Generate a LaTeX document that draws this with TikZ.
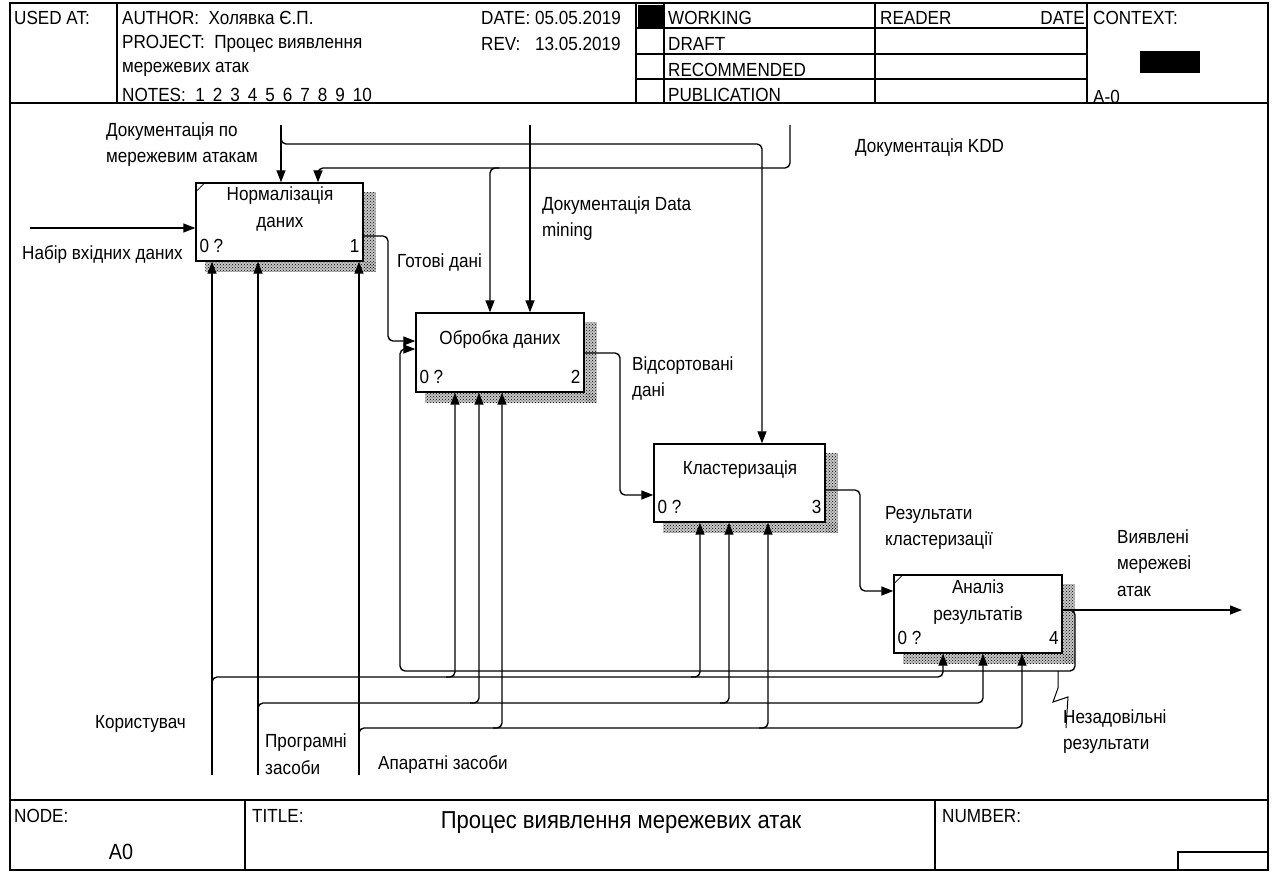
\documentclass[tikz,border=0pt]{standalone}
\usepackage{fontspec}
\setmainfont[FakeStretch=0.9]{Liberation Sans}
\usetikzlibrary{arrows.meta,patterns,calc}
\newcommand\fs{\fontsize{19}{26.5}\selectfont}
\newcommand\fbig{\fontsize{24.5}{28}\selectfont}
\newcommand\fnode{\fontsize{22}{26}\selectfont}
\begin{document}
\begin{tikzpicture}[x=1pt,y=-1pt,
  lbl/.style={font=\fs, inner sep=0pt, align=left, anchor=west},
  ctr/.style={font=\fs, inner sep=0pt, align=center},
  frameline/.style={line width=1.5pt},
  proc/.style={draw, line width=1.4pt, fill=white, inner sep=0pt},
  shadebase/.style={fill=gray!45},
  shade/.style={pattern=crosshatch dots, pattern color=black},
  conn/.style={line width=1.35pt, rounded corners=5pt},
  arr/.style={conn, -{Triangle[length=12pt,width=9pt]}},
  leader/.style={line width=1pt},
]
\useasboundingbox (0,0) rectangle (1272,872);
% ---------- frame ----------
\draw[frameline] (10,3) rectangle (1268,870);
\draw[frameline] (10,103) -- (1268,103);
\draw[frameline] (10,800) -- (1268,800);
\foreach \x in {117,636,664,875,1087} \draw[frameline] (\x,3) -- (\x,103);
\foreach \y in {28,54,79} \draw[line width=1.3pt] (636,\y) -- (1087,\y);
\fill (638,5) rectangle (663,27);
\fill (1140,51) rectangle (1200,73);
\draw[frameline] (245,800) -- (245,870);
\draw[frameline] (935,800) -- (935,870);
\draw[frameline] (1178,870) -- (1178,852) -- (1268,852);
% ---------- header text ----------
\node[lbl] (usedat) at (14,18) {USED AT:};
\node[lbl] (author) at (122,18) {AUTHOR:\ \ Холявка Є.П.};
\node[lbl] (project) at (122,44) {PROJECT:\ \ Процес виявлення};
\node[lbl] (project2) at (122,69) {мережевих атак};
\node[lbl] (notes) at (122,95) {NOTES:\ \ 1\kern8pt 2\kern8pt 3\kern8pt 4\kern8pt 5\kern8pt 6\kern8pt 7\kern8pt 8\kern8pt 9\kern8pt 10};
\node[lbl] (date) at (481,18) {\makebox[54pt][l]{DATE:}05.05.2019};
\node[lbl] (rev) at (481,44) {\makebox[54pt][l]{REV:}13.05.2019};
\node[lbl] (working) at (668,18) {WORKING};
\node[lbl] (draft) at (668,44) {DRAFT};
\node[lbl] (recom) at (668,70) {RECOMMENDED};
\node[lbl] (publ) at (668,95) {PUBLICATION};
\node[lbl] (reader) at (880,18) {READER};
\node[lbl, anchor=east] (rdate) at (1085,18) {DATE};
\node[lbl] (context) at (1093,18) {CONTEXT:};
\node[lbl] (ctxnum) at (1093,97) {A-0};
% ---------- footer text ----------
\node[lbl] (nodelbl) at (14,816) {NODE:};
\node[inner sep=0pt, font=\fnode] (nodenum) at (121,852) {A0};
\node[lbl] (titlelbl) at (252,816) {TITLE:};
\node[inner sep=0pt, font=\fbig] (title) at (621,823) {Процес виявлення мережевих атак};
\node[lbl] (numlbl) at (942,816) {NUMBER:};
% ---------- boxes ----------
\node[proc, minimum width=167pt, minimum height=78pt] (b1) at (279.5,222) {};
\node[proc, minimum width=168pt, minimum height=79pt] (b2) at (500,352.5) {};
\node[proc, minimum width=171pt, minimum height=78pt] (b3) at (739.5,483) {};
\node[proc, minimum width=168pt, minimum height=78pt] (b4) at (978,614) {};
\foreach \b in {b1,b2,b3,b4}{
  \fill[shadebase] ($(\b.north east)+(0.7,10)$) rectangle ($(\b.south east)+(12,10)$);
  \fill[shadebase] ($(\b.south west)+(10,0.7)$) rectangle ($(\b.south east)+(12,10)$);
  \fill[shade] ($(\b.north east)+(0.7,10)$) rectangle ($(\b.south east)+(12,10)$);
  \fill[shade] ($(\b.south west)+(10,0.7)$) rectangle ($(\b.south east)+(12,10)$);
}
\foreach \b in {b1,b4}
  \draw[line width=0.8pt] ($(\b.north west)+(0,10)$) -- ($(\b.north west)+(10,0)$);
\node[ctr] (t1) at (280,209) {Нормалізація\\даних};
\node[ctr] (t2) at (500,340) {Обробка даних};
\node[ctr] (t3) at (740,470) {Кластеризація};
\node[ctr] (t4) at (978,602) {Аналіз\\результатів};
\foreach \b/\n in {b1/1,b2/2,b3/3,b4/4}{
  \node[font=\fs, inner sep=0pt, anchor=base west] at ($(\b.south west)+(4,-9)$) {0 ?};
  \node[font=\fs, inner sep=0pt, anchor=base east] at ($(\b.south east)+(-4,-9)$) {\n};
}
% ---------- coordinates ----------
\coordinate (in1) at (30,228);
\coordinate (c1) at (281,125);
\coordinate (j1) at (281,144);
\coordinate (k1) at (762,144);
\coordinate (kdd) at (790,125);
\coordinate (kddc) at (790,168);
\coordinate (kddl) at (318,168);
\coordinate (br2) at (490,168);
\coordinate (dm) at (530,125);
\coordinate (o1) at (388,236);
\coordinate (o1b) at (388,341);
\coordinate (o2) at (620,353);
\coordinate (o2b) at (620,495);
\coordinate (o3) at (860,490);
\coordinate (o3b) at (860,591);
\coordinate (out) at (1242,610);
\coordinate (fbR) at (1075,671);
\coordinate (fbL) at (400,671);
\coordinate (fbT) at (400,349);
\coordinate (m1) at (212,775);
\coordinate (h1) at (212,677);
\coordinate (h1r) at (943,677);
\coordinate (h1a) at (455,677);
\coordinate (h1b) at (700,677);
\coordinate (m2) at (258,775);
\coordinate (h2) at (258,703);
\coordinate (h2r) at (983,703);
\coordinate (h2a) at (479,703);
\coordinate (h2b) at (729,703);
\coordinate (m3) at (359,775);
\coordinate (h3) at (359,728);
\coordinate (h3r) at (1022,728);
\coordinate (h3a) at (502,728);
\coordinate (h3b) at (768,728);
\coordinate (z1) at (1058,671);
\coordinate (z2) at (1058,688);
\coordinate (z3) at (1053,702);
\coordinate (z4) at (1068,697);
\coordinate (z5) at (1066,728);
% ---------- connectors ----------
\draw[arr] (in1) -- (in1 -| b1.west);
\draw[arr] (c1) -- (c1 |- b1.north);
\draw[arr] ($(j1)+(0,-8)$) -- (j1) -- (k1) -- (k1 |- b3.north);
\draw[arr] (kdd) -- (kddc) -- (kddl) -- (kddl |- b1.north);
\draw[arr] ($(br2)+(9,0)$) -- (br2) -- (br2 |- b2.north);
\draw[arr] (dm) -- (dm |- b2.north);
\draw[arr] (o1 -| b1.east) -- (o1) -- (o1b) -- (o1b -| b2.west);
\draw[arr] (o2 -| b2.east) -- (o2) -- (o2b) -- (o2b -| b3.west);
\draw[arr] (o3 -| b3.east) -- (o3) -- (o3b) -- (o3b -| b4.west);
\draw[arr] (out -| b4.east) -- (out);
\draw[arr] (out -| b4.east) -- (fbR |- out) -- (fbR) -- (fbL) -- (fbT) -- (fbT -| b2.west);
\draw[arr] (m1) -- (m1 |- b1.south);
\draw[arr] ($(h1)+(0,8)$) -- (h1) -- (h1r) -- (h1r |- b4.south);
\draw[arr] ($(h1a)+(-9,0)$) -- (h1a) -- (h1a |- b2.south);
\draw[arr] ($(h1b)+(-9,0)$) -- (h1b) -- (h1b |- b3.south);
\draw[arr] (m2) -- (m2 |- b1.south);
\draw[arr] ($(h2)+(0,8)$) -- (h2) -- (h2r) -- (h2r |- b4.south);
\draw[arr] ($(h2a)+(-9,0)$) -- (h2a) -- (h2a |- b2.south);
\draw[arr] ($(h2b)+(-9,0)$) -- (h2b) -- (h2b |- b3.south);
\draw[arr] (m3) -- (m3 |- b1.south);
\draw[arr] ($(h3)+(0,8)$) -- (h3) -- (h3r) -- (h3r |- b4.south);
\draw[arr] ($(h3a)+(-9,0)$) -- (h3a) -- (h3a |- b2.south);
\draw[arr] ($(h3b)+(-9,0)$) -- (h3b) -- (h3b |- b3.south);
\draw[leader] (z1) -- (z2) -- (z3) -- (z4) -- (z5);
% ---------- labels ----------
\node[lbl] (l1) at (106,144.5) {Документація по\\мережевим атакам};
\node[lbl] (l2) at (22,255) {Набір вхідних даних};
\node[lbl] (l3) at (397,263) {Готові дані};
\node[lbl] (l4) at (542,218.5) {Документація Data\\mining};
\node[lbl] (l5) at (855,148) {Документація KDD};
\node[lbl] (l6) at (632,378.5) {Відсортовані\\дані};
\node[lbl] (l7) at (885,528) {Результати\\кластеризації};
\node[lbl] (l8) at (1117,563) {Виявлені\\мережеві\\атак};
\node[lbl] (l9) at (1063,731.5) {Незадовільні\\результати};
\node[lbl] (l10) at (95,724) {Користувач};
\node[lbl] (l11) at (265,754) {Програмні\\засоби};
\node[lbl] (l12) at (378,764) {Апаратні засоби};
\end{tikzpicture}
\end{document}
